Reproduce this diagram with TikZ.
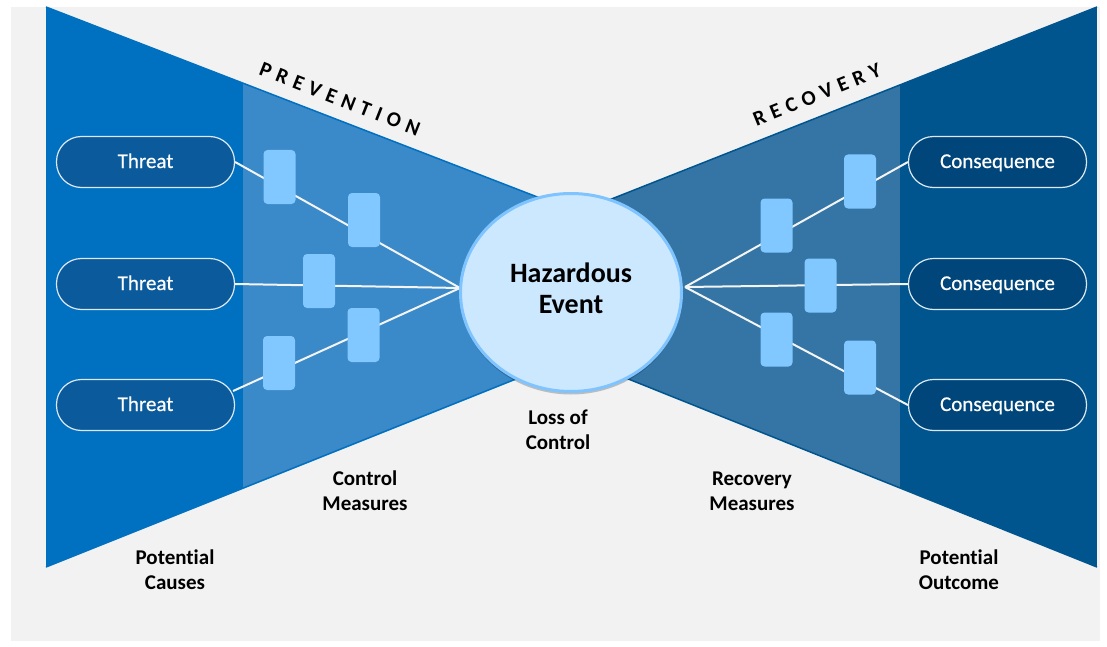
\documentclass[tikz,border=0pt]{standalone}
\usepackage{fontspec}
\setmainfont{Carlito}[Ligatures=CommonOff]
\usetikzlibrary{shapes.geometric,shadows,calc}
\definecolor{bg}{HTML}{F2F2F2}
\definecolor{ldark}{HTML}{0070C0}
\definecolor{llight}{HTML}{3A89C9}
\definecolor{rdark}{HTML}{00558F}
\definecolor{rlight}{HTML}{3475A5}
\definecolor{tpill}{HTML}{0A5A9C}
\definecolor{cpill}{HTML}{00467A}
\definecolor{pillline}{HTML}{DCE8F3}
\definecolor{barrier}{HTML}{80C8FF}
\definecolor{hazfill}{HTML}{CCE8FF}
\definecolor{hazline}{HTML}{7FC4FF}
\definecolor{wire}{HTML}{F4F4F4}
\tikzset{
  pill/.style={rectangle, rounded corners=25pt, minimum width=178pt, minimum height=51pt,
    draw=pillline, line width=1.2pt, text=white, inner sep=0pt,
    text height=15pt, text depth=3pt,
    font=\fontsize{21}{25}\selectfont\addfontfeature{FakeBold=0.6}},
  threat/.style={pill, fill=tpill},
  conseq/.style={pill, fill=cpill},
  barrierbox/.style={rectangle, rounded corners=4pt, fill=barrier, minimum width=32pt,
    minimum height=54pt, inner sep=0pt},
  wireline/.style={draw=wire, line width=2pt},
  lbl/.style={align=center, font=\bfseries\fontsize{21}{25}\selectfont, text=black},
  sidetitle/.style={font=\bfseries\fontsize{21}{24}\selectfont\addfontfeature{LetterSpace=30}, text=black},
  hazard/.style={ellipse, minimum width=221pt, minimum height=198pt, inner sep=0pt,
    fill=hazfill, draw=hazline, line width=3pt,
    drop shadow={shadow xshift=0pt, shadow yshift=-3pt, fill=black, opacity=0.22}},
  haztext/.style={align=center, font=\bfseries\fontsize{28}{31}\selectfont, text=black},
}
\begin{document}
\begin{tikzpicture}[x=1pt,y=-1pt]
\useasboundingbox (0,0) rectangle (1107,647);
\fill[bg] (11,7) rectangle (1100,641);
% left wedge
\begin{scope}
\clip (46,7) -- (571,210) -- (571,357) -- (46,567) -- cycle;
\fill[ldark] (46,7) rectangle (243,567);
\fill[llight] (243,7) rectangle (571,567);
\end{scope}
\draw[ldark, line width=1.5pt] (46,7) -- (571,210);
\draw[ldark, line width=1.5pt] (46,567) -- (571,357);
% right wedge
\begin{scope}
\clip (1097,7) -- (571,215) -- (571,356) -- (1097,567) -- cycle;
\fill[rdark] (900,7) rectangle (1097,567);
\fill[rlight] (571,7) rectangle (900,567);
\end{scope}
\draw[rdark, line width=1.5pt] (1097,7) -- (571,215);
\draw[rdark, line width=1.5pt] (1097,567) -- (571,356);

% titles
\node[sidetitle, rotate=-21.5] (prev) at (340,99) {PREVENTION};
\node[sidetitle, rotate=22] (reco) at (817,95) {RECOVERY};

% threats and consequences
\node[threat] (t1) at (145.5,162) {Threat};
\node[threat] (t2) at (145.5,284) {Threat};
\node[threat] (t3) at (145.5,405) {Threat};
\node[conseq] (c1) at (997.5,162) {Consequence};
\node[conseq] (c2) at (997.5,284) {Consequence};
\node[conseq] (c3) at (997.5,405) {Consequence};

\coordinate (hl) at (460,288);
\coordinate (hr) at (685,287);
\coordinate (t3s) at ($(t3.east)+(-2,-14)$);

% wires
\draw[wireline] (t1.east) -- (hl);
\draw[wireline] (t2.east) -- (hl);
\draw[wireline] (t3s) -- (hl);
\draw[wireline] (hr) -- (c1.west);
\draw[wireline] (hr) -- (c2.west);
\draw[wireline] (hr) -- (c3.west);

% barriers
\node[barrierbox] (b1) at (279.5,177) {};
\node[barrierbox] (b2) at (364,220) {};
\node[barrierbox] (b3) at (319,281) {};
\node[barrierbox] (b4) at (363.5,335) {};
\node[barrierbox] (b5) at (279,363) {};
\node[barrierbox] (b6) at (860,181.5) {};
\node[barrierbox] (b7) at (776.5,225.5) {};
\node[barrierbox] (b8) at (820.5,285.5) {};
\node[barrierbox] (b9) at (776.5,339.5) {};
\node[barrierbox] (b10) at (860,367.5) {};

% hazardous event
\node[hazard] (haz) at (571,292.5) {};
\node[haztext] (hazt) at (571,288) {Hazardous\\Event};

% labels
\node[lbl] (loss) at (558,430) {Loss of\\Control};
\node[lbl] (ctrl) at (365,491) {Control\\Measures};
\node[lbl] (recm) at (752,491) {Recovery\\Measures};
\node[lbl] (pcau) at (175,570) {Potential\\Causes};
\node[lbl] (pout) at (959,570) {Potential\\Outcome};
\end{tikzpicture}
\end{document}
